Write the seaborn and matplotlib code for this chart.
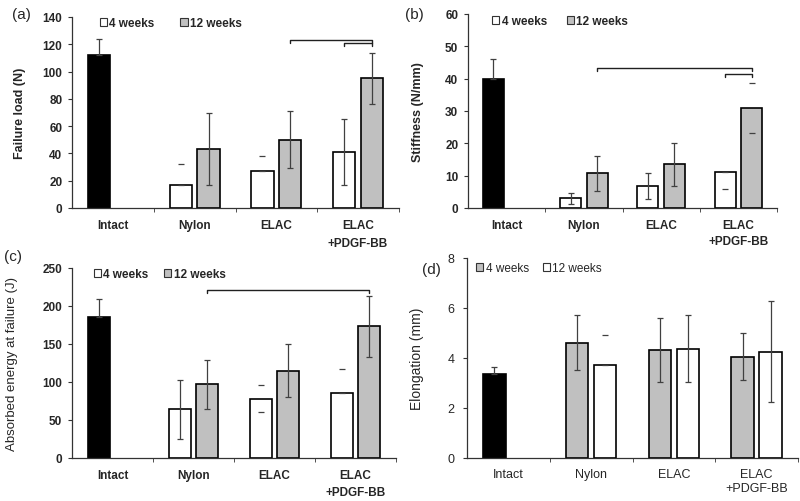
import matplotlib
matplotlib.use('Agg')
import matplotlib.pyplot as plt
from matplotlib.patches import Patch
import seaborn as sns
import pandas as pd

sns.set_style('white')
plt.rcParams['font.family'] = ['Liberation Sans', 'DejaVu Sans']

groups = ['Intact', 'Nylon', 'ELAC', 'ELAC\n+PDGF-BB']
weeks = ['4 weeks', '12 weeks']

# (a) failure load (N)
load_intact, load_intact_sd = 112, 12
load_4w = [17, 27, 41]
load_4w_sd = [15, 11, 24]
load_12w = [43, 50, 95]
load_12w_sd = [26.5, 21, 18.5]

# (b) stiffness (N/mm)
stiff_intact, stiff_intact_sd = 39.8, 6.3
stiff_4w = [3.0, 6.8, 11.0]
stiff_4w_sd = [1.7, 3.9, 5.0]
stiff_12w = [10.7, 13.5, 30.8]
stiff_12w_sd = [5.4, 6.6, 7.7]

# (c) absorbed energy at failure (J)
energy_intact, energy_intact_sd = 186, 23
energy_4w = [64, 78, 86]
energy_4w_sd = [39, 18, 31]
energy_12w = [97, 115, 173]
energy_12w_sd = [32, 34.5, 40.5]

# (d) elongation (mm)
elong_intact, elong_intact_sd = 3.35, 0.28
elong_4w = [4.6, 4.3, 4.05]
elong_4w_sd = [1.1, 1.28, 0.95]
elong_12w = [3.7, 4.37, 4.25]
elong_12w_sd = [1.2, 1.35, 2.03]

# significance brackets: (from bar, to bar, height)
brackets_a = [(('ELAC', '12 weeks'), ('ELAC\n+PDGF-BB', '12 weeks'), 123),
              (('ELAC\n+PDGF-BB', '4 weeks'), ('ELAC\n+PDGF-BB', '12 weeks'), 121)]
brackets_b = [(('Nylon', '12 weeks'), ('ELAC\n+PDGF-BB', '12 weeks'), 43.3),
              (('ELAC\n+PDGF-BB', '4 weeks'), ('ELAC\n+PDGF-BB', '12 weeks'), 41.4)]
brackets_c = [(('Nylon', '12 weeks'), ('ELAC\n+PDGF-BB', '12 weeks'), 221)]

GRAY = '#c0c0c0'


def make_df(intact, v4, v12):
    rows = [(groups[0], weeks[0], intact)]
    rows += [(g, weeks[0], v) for g, v in zip(groups[1:], v4)]
    rows += [(g, weeks[1], v) for g, v in zip(groups[1:], v12)]
    return pd.DataFrame(rows, columns=['group', 'week', 'value'])


def make_sd(intact, s4, s12):
    sd = {(groups[0], weeks[0]): intact}
    sd.update({(g, weeks[0]): s for g, s in zip(groups[1:], s4)})
    sd.update({(g, weeks[1]): s for g, s in zip(groups[1:], s12)})
    return sd


def panel(ax, df, sds, palette, ylim, step, ylabel, caps={}, brackets=[],
          tick=2, bold=True, fs=8.5, lab_fs=9, lab_x=-0.14, leg_xy=(0.08, 1.0),
          colsp=1.5, ypad=4, xpad=8, lsp=1.6):
    sns.barplot(data=df, x='group', y='value', hue='week', order=groups,
                hue_order=weeks, palette=palette, edgecolor='black',
                linewidth=1.2, width=0.68, gap=0.2, errorbar=None,
                legend=False, ax=ax)
    bars = {}
    for wi, cont in enumerate(ax.containers):
        for p in cont:
            xc = p.get_x() + p.get_width() / 2
            g = groups[int(round(xc))]
            bars[(g, weeks[wi])] = (xc, p.get_height())
            if g == 'Intact':
                p.set_facecolor('black')
    caps = dict(caps)
    caps.setdefault((groups[0], weeks[0]), 'upline')  # hidden inside black bar
    for key, (xc, h) in bars.items():
        sd = sds[key]
        mode = caps.get(key, 'full')
        lo = 0 if mode in ('up', 'upline') else sd
        hi = 0 if mode == 'down' else sd
        line = mode in ('full', 'upline')
        ax.errorbar(xc, h, yerr=[[lo], [hi]], fmt='none', ecolor='#404040',
                    elinewidth=0.9 if line else 0, capsize=2.5,
                    capthick=0.9, zorder=5)
    for k1, k2, h in brackets:
        x1, x2 = bars[k1][0], bars[k2][0]
        ax.plot([x1, x1, x2, x2], [h - tick, h, h, h - tick], color='#202020',
                lw=1.0, zorder=6)

    ax.set_ylim(*ylim)
    ax.set_yticks(list(range(ylim[0], ylim[1] + 1, step)))
    ax.set_xlim(-0.5, 3.5)
    ax.set_xticks([0.5, 1.5, 2.5, 3.5], minor=True)
    ax.tick_params(axis='x', which='major', length=0, pad=xpad)
    ax.tick_params(axis='x', which='minor', length=3, direction='out',
                   color='#333333', bottom=True)
    ax.tick_params(axis='y', length=3, direction='out', color='#333333',
                   left=True, pad=ypad)
    sns.despine(ax=ax)
    for s in ['left', 'bottom']:
        ax.spines[s].set_color('#333333')
        ax.spines[s].set_linewidth(0.9)
    ax.set_xlabel('')
    ax.set_ylabel(ylabel, fontsize=lab_fs, fontweight='bold' if bold else 'normal')
    ax.yaxis.set_label_coords(lab_x, 0.5)
    w = 'bold' if bold else 'normal'
    for t in ax.get_xticklabels() + ax.get_yticklabels():
        t.set_fontsize(fs)
        t.set_fontweight(w)
    for t in ax.get_xticklabels():
        t.set_linespacing(lsp)
    handles = [Patch(facecolor=palette[wk], edgecolor='#333333', lw=0.8,
                     label=wk) for wk in weeks]
    ax.legend(handles=handles, loc='upper left', bbox_to_anchor=leg_xy,
              ncol=2, frameon=False, handlelength=0.6, handleheight=0.6,
              handletextpad=0.2, columnspacing=colsp, borderpad=0,
              borderaxespad=0, prop={'size': 8.5, 'weight': w})


fig = plt.figure(figsize=(8, 5.02), dpi=100)
ax_a = fig.add_axes([0.09, 0.5837, 0.40875, 0.3805])
ax_b = fig.add_axes([0.585, 0.5837, 0.38625, 0.3865])
ax_c = fig.add_axes([0.09, 0.0857, 0.405, 0.3785])
ax_d = fig.add_axes([0.58375, 0.0857, 0.41375, 0.3984])

pal_ac = {'4 weeks': 'white', '12 weeks': GRAY}
pal_d = {'4 weeks': GRAY, '12 weeks': 'white'}

panel(ax_a, make_df(load_intact, load_4w, load_12w),
      make_sd(load_intact_sd, load_4w_sd, load_12w_sd), pal_ac, (0, 140), 20,
      'Failure load (N)',
      caps={('Nylon', '4 weeks'): 'up', ('ELAC', '4 weeks'): 'up'},
      brackets=brackets_a, tick=2, lab_x=-0.14, leg_xy=(0.085, 1.0),
      colsp=2.2, lsp=1.65)

panel(ax_b, make_df(stiff_intact, stiff_4w, stiff_12w),
      make_sd(stiff_intact_sd, stiff_4w_sd, stiff_12w_sd), pal_ac, (0, 60), 10,
      'Stiffness (N/mm)',
      caps={('ELAC\n+PDGF-BB', '4 weeks'): 'down',
            ('ELAC\n+PDGF-BB', '12 weeks'): 'both'},
      brackets=brackets_b, tick=0.8, lab_x=-0.142, leg_xy=(0.078, 0.995),
      colsp=1.7, lsp=1.4)

panel(ax_c, make_df(energy_intact, energy_4w, energy_12w),
      make_sd(energy_intact_sd, energy_4w_sd, energy_12w_sd), pal_ac, (0, 250),
      50, 'Absorbed energy at failure (J)',
      caps={('ELAC', '4 weeks'): 'both', ('ELAC\n+PDGF-BB', '4 weeks'): 'up'},
      brackets=brackets_c, tick=4, lab_fs=9.5, lab_x=-0.167,
      leg_xy=(0.068, 1.0), colsp=1.3, lsp=1.5)
ax_c.yaxis.label.set_fontweight('normal')

panel(ax_d, make_df(elong_intact, elong_4w, elong_12w),
      make_sd(elong_intact_sd, elong_4w_sd, elong_12w_sd), pal_d, (0, 8), 2,
      'Elongation (mm)', caps={('Nylon', '12 weeks'): 'up'},
      bold=False, fs=9, lab_fs=10, lab_x=-0.13, leg_xy=(0.028, 0.98),
      colsp=1.2, ypad=6, xpad=7, lsp=1.3)

for tag, x, y in [('(a)', 12, 15), ('(b)', 405, 15), ('(c)', 4, 257),
                  ('(d)', 422, 270)]:
    fig.text(x / 800, 1 - y / 502, tag, fontsize=11, va='center', ha='left')

fig.savefig('out.png', dpi=100)
